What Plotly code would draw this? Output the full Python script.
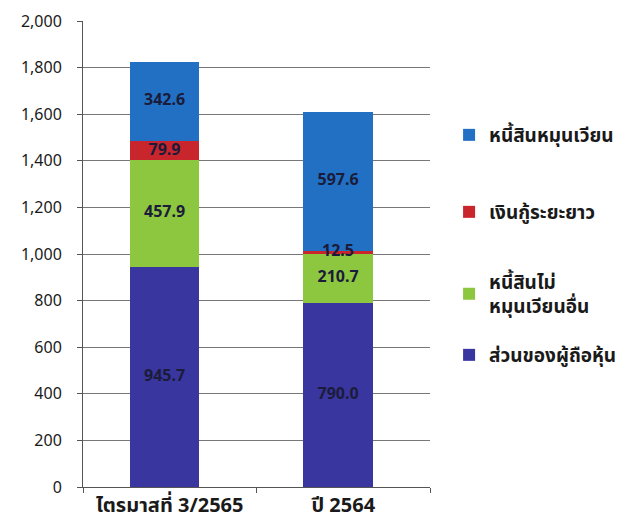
import plotly.graph_objects as go

categories = ["ไตรมาสที่ 3/2565", "ปี 2564"]
series_names = ["ส่วนของผู้ถือหุ้น", "หนี้สินไม่<br>หมุนเวียนอื่น", "เงินกู้ระยะยาว", "หนี้สินหมุนเวียน"]
equity = [945.7, 790.0]
other_noncurrent = [457.9, 210.7]
long_term_loan = [79.9, 12.5]
current_liab = [342.6, 597.6]
colors = ["#3a36a0", "#8dc63f", "#c8252c", "#2170c4"]
y_ticks = [0, 200, 400, 600, 800, 1000, 1200, 1400, 1600, 1800, 2000]

series_values = [equity, other_noncurrent, long_term_loan, current_liab]

FONT = "Noto Sans, Noto Sans Thai, DejaVu Sans"
LEG_FONT = dict(family=FONT, size=19, color="#1a1a1a", weight="bold")

BAR_W = 0.4
BAR_OFF = -0.23  # bars sit slightly left of the category centre

TOP, BOTTOM = 13, 48
plot_h = 527 - TOP - BOTTOM
def page_to_paper(page_y):
    # page y includes the 8px page margin above the figure
    return (527 - BOTTOM + 8 - page_y) / plot_h

# one legend box per series so each entry sits where the reference has it
legend_ids = ["legend4", "legend3", "legend2", "legend"]
legend_page_y = [355, 294, 212, 135]

fig = go.Figure()
for name, vals, col, lid in zip(series_names, series_values, colors, legend_ids):
    fig.add_trace(go.Bar(
        x=categories, y=vals, name=name, marker=dict(color=col, line=dict(width=0)),
        width=BAR_W, offset=BAR_OFF, legend=lid,
    ))

# value labels drawn on top of all bars, centred in each segment
base = [0.0 for _ in categories]
lab_x, lab_y, lab_t = [], [], []
for vals in series_values:
    for j, v in enumerate(vals):
        lab_x.append(j + BAR_OFF + BAR_W / 2)
        lab_y.append(base[j] + v / 2)
        lab_t.append(f"{v:.1f}")
        base[j] += v
fig.add_trace(go.Scatter(
    x=lab_x, y=lab_y, text=lab_t, mode="text", showlegend=False, hoverinfo="skip",
    xaxis="x2",
    textfont=dict(family=FONT, size=16, color="#1b1b3a", weight="bold"),
))

leg_common = dict(x=1.055, xanchor="left", yanchor="middle", font=LEG_FONT,
                  itemwidth=30, bgcolor="rgba(0,0,0,0)")
layout_legends = {}
for lid, py in zip(legend_ids, legend_page_y):
    layout_legends[lid] = dict(y=page_to_paper(py), **leg_common)

fig.update_layout(
    barmode="stack",
    width=631, height=527,
    margin=dict(l=75, r=209, t=TOP, b=BOTTOM, autoexpand=False),
    paper_bgcolor="white", plot_bgcolor="white",
    font=dict(family=FONT, color="#1a1a1a"),
    showlegend=True,
    **layout_legends,
    xaxis=dict(
        showline=True, linecolor="#555", linewidth=1,
        ticks="outside", tickson="boundaries", ticklen=5, tickcolor="#555",
        tickfont=dict(family=FONT, size=20, color="#1a1a1a", weight="bold"),
        automargin=False,
    ),
    xaxis2=dict(
        overlaying="x", range=[-0.5, len(categories) - 0.5], visible=False,
    ),
    yaxis=dict(
        range=[0, 2000], tickvals=y_ticks, tickformat=",",
        showgrid=True, gridcolor="#777", gridwidth=1,
        showline=True, linecolor="#555", linewidth=1,
        ticks="outside", ticklen=5, tickcolor="#555",
        tickfont=dict(family=FONT, size=16, color="#1a1a1a"),
        ticklabelstandoff=12, ticklabeloverflow="allow",
        zeroline=False, automargin=False,
    ),
)

fig.write_html("out.html")
